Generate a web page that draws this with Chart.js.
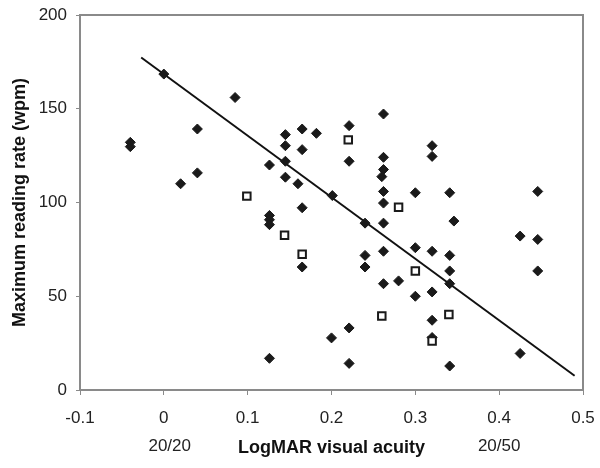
<!DOCTYPE html>
<html>
<head>
<meta charset="utf-8">
<script src="https://cdn.jsdelivr.net/npm/chart.js@4/dist/chart.umd.min.js"></script>
<style>
  html, body { margin: 0; padding: 0; background: #fff; }
  #wrap { width: 600px; height: 468px; }
</style>
</head>
<body>
<div id="wrap"><canvas id="chart" width="600" height="468"></canvas></div>
<script>
// filled diamonds: [logMAR, wpm]
const diamondPoints = [
  [-0.04, 132.1], [-0.04, 129.8], [0, 168.5], [0.02, 110], [0.04, 139.2], [0.04, 115.8], [0.085, 156],
  [0.126, 120], [0.126, 93.1], [0.126, 90.8], [0.126, 88.2], [0.126, 16.9],
  [0.145, 136.2], [0.145, 130.3], [0.145, 122], [0.145, 113.5],
  [0.16, 110], [0.165, 139.2], [0.165, 128.2], [0.165, 97.2], [0.165, 65.6],
  [0.182, 136.9],
  [0.201, 103.7], [0.2, 27.8],
  [0.221, 141], [0.221, 122], [0.221, 33.1], [0.221, 14.2],
  [0.24, 89], [0.24, 71.8], [0.24, 65.6],
  [0.262, 147.2], [0.262, 124.1], [0.262, 117.6], [0.26, 113.8], [0.262, 105.9], [0.262, 99.7],
  [0.262, 89], [0.262, 74], [0.262, 56.7],
  [0.28, 58.2],
  [0.3, 105.2], [0.3, 75.9], [0.3, 50],
  [0.32, 130.3], [0.32, 124.6], [0.32, 74], [0.32, 52.3], [0.32, 37.2], [0.32, 28],
  [0.341, 105.2], [0.346, 90.1], [0.341, 71.8], [0.341, 63.5], [0.341, 56.7], [0.341, 12.8],
  [0.425, 82.1], [0.425, 19.5],
  [0.446, 105.9], [0.446, 80.3], [0.446, 63.5]
];

// open squares
const squarePoints = [
  [0.099, 103.4], [0.144, 82.5], [0.165, 72.4], [0.22, 133.4], [0.26, 39.5],
  [0.28, 97.5], [0.3, 63.5], [0.32, 26.1], [0.34, 40.3]
];

// regression line end points
const trendLine = [[-0.027, 177.3], [0.49, 7.6]];

const xTickLabels = ['-0.1', '0', '0.1', '0.2', '0.3', '0.4', '0.5'];
const yTickLabels = ['0', '50', '100', '150', '200'];
const snellenLabels = [['20/20', 0.007], ['20/50', 0.4]];

const toXY = (arr) => arr.map(([x, y]) => ({ x, y }));
const FONT = "'Liberation Sans', Arial, sans-serif";
const AXIS = '#8a8a8a';

const frame = {
  id: 'frame',
  afterDatasetsDraw(chart) {
    const { ctx, chartArea: a } = chart;
    ctx.save();
    ctx.strokeStyle = AXIS;
    ctx.lineWidth = 2;
    ctx.strokeRect(a.left, a.top, a.right - a.left, a.bottom - a.top);
    ctx.restore();
  },
  afterDraw(chart) {
    const { ctx } = chart;
    const xs = chart.scales.x;
    ctx.save();
    ctx.fillStyle = '#222';
    ctx.font = '17px ' + FONT;
    ctx.textAlign = 'center';
    ctx.textBaseline = 'middle';
    snellenLabels.forEach(([txt, v]) => ctx.fillText(txt, xs.getPixelForValue(v), 446));
    ctx.restore();
  }
};

new Chart(document.getElementById('chart'), {
  type: 'scatter',
  data: {
    datasets: [
      {
        type: 'line',
        data: toXY(trendLine),
        borderColor: '#111',
        borderWidth: 2,
        pointRadius: 0,
        fill: false,
        order: 3
      },
      {
        data: toXY(diamondPoints),
        pointStyle: 'rectRot',
        pointRadius: 5,
        backgroundColor: '#1a1a1a',
        borderColor: '#1a1a1a',
        borderWidth: 1,
        order: 2
      },
      {
        data: toXY(squarePoints),
        pointStyle: 'rect',
        pointRadius: 5.3,
        backgroundColor: '#fff',
        borderColor: '#1a1a1a',
        borderWidth: 2,
        order: 1
      }
    ]
  },
  options: {
    responsive: false,
    animation: false,
    events: [],
    layout: { padding: { top: 15, right: 17, left: 0, bottom: 0 } },
    plugins: { legend: { display: false }, tooltip: { enabled: false } },
    scales: {
      x: {
        type: 'linear',
        min: -0.1,
        max: 0.5,
        afterFit: (s) => { s.height = 78; s.paddingLeft = 0; s.paddingRight = 0; },
        afterBuildTicks: (s) => { s.ticks = xTickLabels.map((t) => ({ value: Number(t) })); },
        ticks: {
          color: '#222',
          font: { family: FONT, size: 17 },
          padding: 13,
          maxRotation: 0,
          callback: (v, i) => xTickLabels[i]
        },
        grid: { drawOnChartArea: false, color: AXIS, lineWidth: 1, tickLength: 5 },
        border: { color: AXIS, width: 2 },
        title: {
          display: true,
          text: 'LogMAR visual acuity',
          color: '#111',
          font: { family: FONT, size: 18, weight: 'bold' },
          padding: { bottom: 9, top: 0 }
        }
      },
      y: {
        min: 0,
        max: 200,
        afterFit: (s) => { s.width = 80; s.paddingTop = 0; s.paddingBottom = 0; },
        afterBuildTicks: (s) => { s.ticks = yTickLabels.map((t) => ({ value: Number(t) })); },
        ticks: {
          color: '#222',
          font: { family: FONT, size: 17 },
          padding: 9,
          callback: (v, i) => yTickLabels[i]
        },
        grid: { drawOnChartArea: false, color: AXIS, lineWidth: 1, tickLength: 4 },
        border: { color: AXIS, width: 2 },
        title: {
          display: true,
          text: 'Maximum reading rate (wpm)',
          color: '#111',
          font: { family: FONT, size: 18, weight: 'bold' },
          padding: { top: 9, bottom: 0 }
        }
      }
    }
  },
  plugins: [frame]
});
</script>
</body>
</html>
